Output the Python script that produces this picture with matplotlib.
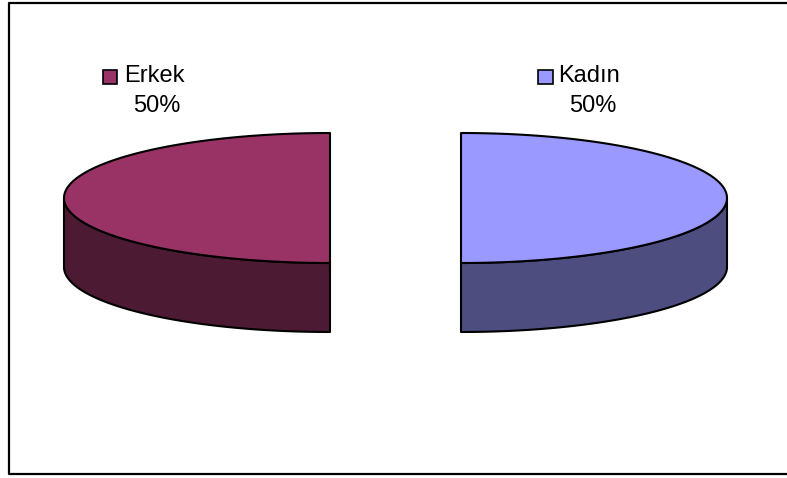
import numpy as np
import matplotlib.pyplot as plt
from matplotlib.patches import Polygon

# data
labels = ['Erkek', 'Kadın']
values = [50, 50]
top_colors = ['#993366', '#9999FF']
side_colors = ['#4D1A33', '#4D4D80']

W, H = 787, 478
fig = plt.figure(figsize=(W / 100, H / 100), dpi=100)
ax = fig.add_axes([0, 0, 1, 1])
ax.set_xlim(0, W)
ax.set_ylim(H, 0)
ax.axis('off')

# chart border (right side falls outside the image)
ax.plot([W + 5, 8.5, 8.5, W + 5], [2.5, 2.5, 474, 474], color='black', lw=1.6)

# pie geometry in pixel space
cx, cy = 395.5, 198
a, b = 266, 65
depth = 69
explode = 65.5


def pt(t, ox, oy, dz=0):
    return ox + a * np.cos(t), oy - b * np.sin(t) + dz


fracs = np.array(values) / sum(values)
start = np.pi / 2
for i, f in enumerate(fracs):
    t0, t1 = start, start + 2 * np.pi * f
    mid = (t0 + t1) / 2
    ox = cx + explode * np.cos(mid)
    oy = cy - explode * np.sin(mid) * b / a
    ts = np.linspace(t0, t1, 200)
    # side wall: visible part of the arc is where sin(t) < 0
    ts_front = ts[np.sin(ts) <= 1e-9]
    if len(ts_front) > 1:
        xs, ys = pt(ts_front, ox, oy)
        xb, yb = pt(ts_front[::-1], ox, oy, depth)
        side = np.column_stack([np.r_[xs, xb], np.r_[ys, yb]])
        ax.add_patch(Polygon(side, closed=True, facecolor=side_colors[i],
                             edgecolor='black', lw=1.5, joinstyle='round'))
    # top face
    xs, ys = pt(ts, ox, oy)
    top = np.column_stack([np.r_[ox, xs], np.r_[oy, ys]])
    ax.add_patch(Polygon(top, closed=True, facecolor=top_colors[i],
                         edgecolor='black', lw=1.5, joinstyle='round'))
    start = t1

# data labels: (square x, text x, percent center x)
label_pos = [(102.5, 124, 157), (538, 558, 592.5)]
for i, (sx, tx, px) in enumerate(label_pos):
    ax.add_patch(plt.Rectangle((sx, 69.5), 14.5, 14.5, facecolor=top_colors[i],
                               edgecolor='black', lw=1.2))
    ax.text(tx, 76, labels[i], fontsize=17, family='Liberation Sans',
            va='center', ha='left')
    ax.text(px, 106, f'{values[i]}%', fontsize=17,
            family='Liberation Sans', va='center', ha='center')

fig.savefig('out.png', dpi=100)
